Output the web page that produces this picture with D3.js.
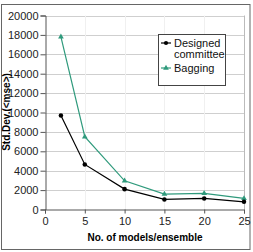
<!DOCTYPE html>
<html>
<head>
    <meta charset="utf-8">
    <script src="https://cdn.jsdelivr.net/npm/d3@7"></script>
    <style>
        body { margin: 0; background: #fff; }
        text { font-family: "Liberation Sans", Arial, sans-serif; }
    </style>
</head>
<body>
    <svg width="253" height="252"></svg>
    <script>
        // data
        var models = [2, 5, 10, 15, 20, 25];
        var committee = [9700, 4650, 2100, 1040, 1140, 790];
        var bagging = [17800, 7500, 2960, 1590, 1660, 1140];
        var xTicks = [0, 5, 10, 15, 20, 25];
        var yTicks = [0, 2000, 4000, 6000, 8000, 10000, 12000, 14000, 16000, 18000, 20000];

        var svg = d3.select("svg");
        var marge = { top: 15.5, left: 45, right: 244, bottom: 209.5 };

        // outer frame
        svg.append("rect")
            .attr("x", 1.5).attr("y", 4.5)
            .attr("width", 248.5).attr("height", 245)
            .attr("fill", "none").attr("stroke", "#666").attr("stroke-width", 1);

        var x = d3.scaleLinear().domain([0, 25]).range([marge.left, marge.right]);
        var y = d3.scaleLinear().domain([0, 20000]).range([marge.bottom, marge.top]);

        // grid
        svg.append("g").selectAll("line").data(yTicks.slice(1)).enter().append("line")
            .attr("x1", marge.left).attr("x2", marge.right)
            .attr("y1", function (d) { return Math.round(y(d)) + 0.5; })
            .attr("y2", function (d) { return Math.round(y(d)) + 0.5; })
            .attr("stroke", "#cfcfcf");
        svg.append("g").selectAll("line").data(xTicks.slice(1)).enter().append("line")
            .attr("y1", marge.top).attr("y2", marge.bottom)
            .attr("x1", function (d) { return Math.round(x(d)) + 0.5; })
            .attr("x2", function (d) { return Math.round(x(d)) + 0.5; })
            .attr("stroke", function (d) { return d == 25 ? "#bbb" : "#f0f0f0"; });

        // axes
        var yAxis = svg.append("g")
            .attr("transform", "translate(" + (marge.left + 0.5) + ",0)")
            .call(d3.axisLeft(y).tickValues(yTicks).tickSize(5).tickPadding(2).tickFormat(d3.format("d")));
        var xAxis = svg.append("g")
            .attr("transform", "translate(0," + (Math.round(marge.bottom) - 0.5) + ")")
            .call(d3.axisBottom(x).tickValues(xTicks).tickSize(4).tickPadding(4).tickFormat(d3.format("d")));
        [yAxis, xAxis].forEach(function (a) {
            a.select(".domain").attr("stroke", "#555");
            a.selectAll(".tick line").attr("stroke", "#555");
            a.selectAll("text").attr("font-size", 11).attr("fill", "#222")
                .style("font-family", "Liberation Sans, Arial, sans-serif");
        });

        // axis titles
        svg.append("text")
            .attr("x", 145).attr("y", 241)
            .attr("text-anchor", "middle")
            .attr("font-size", 10).attr("font-weight", "bold")
            .text("No. of models/ensemble");
        svg.append("text")
            .attr("transform", "translate(10,112) rotate(-90)")
            .attr("text-anchor", "middle")
            .attr("font-size", 10).attr("font-weight", "bold")
            .text("Std.Dev.(<mse>)");

        var line = d3.line()
            .x(function (d) { return x(d[0]); })
            .y(function (d) { return y(d[1]); });

        var series = [
            { name: "Bagging", vals: bagging, color: "#2f9a7c", sym: d3.symbolTriangle },
            { name: "committee", vals: committee, color: "#000", sym: d3.symbolCircle }
        ];
        series.forEach(function (s) {
            var pts = models.map(function (m, i) { return [m, s.vals[i]]; });
            svg.append("path").datum(pts)
                .attr("d", line).attr("fill", "none")
                .attr("stroke", s.color).attr("stroke-width", 1.2);
            svg.append("g").selectAll("path").data(pts).enter().append("path")
                .attr("d", d3.symbol().type(s.sym).size(s.sym == d3.symbolCircle ? 16 : 14))
                .attr("transform", function (d) { return "translate(" + x(d[0]) + "," + y(d[1]) + ")"; })
                .attr("fill", s.color);
        });

        // legend
        var lg = svg.append("g");
        lg.append("rect")
            .attr("x", 158.5).attr("y", 34.5).attr("width", 67).attr("height", 51)
            .attr("fill", "#fff").attr("stroke", "#444");
        var items = [
            { lines: ["Designed", "committee"], color: "#000", sym: d3.symbolCircle, y: 43 },
            { lines: ["Bagging"], color: "#2f9a7c", sym: d3.symbolTriangle, y: 68 }
        ];
        items.forEach(function (it) {
            lg.append("line").attr("x1", 161).attr("x2", 171)
                .attr("y1", it.y).attr("y2", it.y)
                .attr("stroke", it.color).attr("stroke-width", 1.2);
            lg.append("path")
                .attr("d", d3.symbol().type(it.sym).size(14))
                .attr("transform", "translate(166," + it.y + ")")
                .attr("fill", it.color);
            it.lines.forEach(function (t, i) {
                lg.append("text").attr("x", 174).attr("y", it.y + 4 + i * 11)
                    .attr("font-size", 11).attr("fill", "#111").text(t);
            });
        });
    </script>
</body>
</html>
